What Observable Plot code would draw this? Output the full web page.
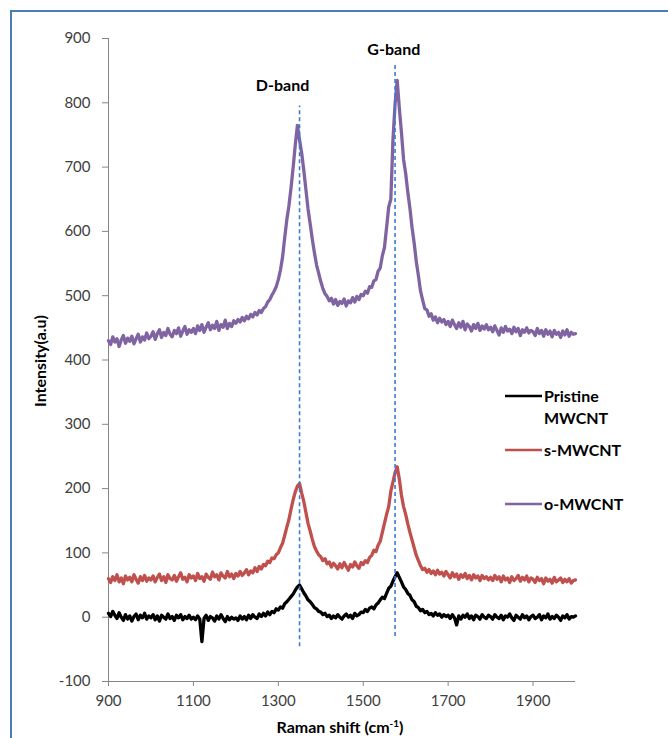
<!DOCTYPE html>
<html><head><meta charset="utf-8">
<script src="https://cdn.jsdelivr.net/npm/d3@7"></script>
<script src="https://cdn.jsdelivr.net/npm/@observablehq/plot@0.6"></script>
<style>
body{margin:0;background:#fff;}
#wrap{position:relative;width:668px;height:738px;overflow:hidden;font-family:Lato,sans-serif;background:#fff;}
#wrap svg{position:absolute;left:0;top:0;}
#frame{position:absolute;left:10px;top:10px;width:700px;height:800px;border-left:2px solid #4a7ebb;border-top:2px solid #4a7ebb;}
</style>
</head><body>
<div id="wrap"><div id="frame"></div></div>
<script>
// Raman shift sampling: 900 to 2000 cm-1, every 5 cm-1
const shiftStart = 900, shiftStep = 5;

const pristine = [
 6, 1, 9, 3, -2, 7, 0, -5, 4, -3, 2, -6, 1, 5, -4, 3, -1, 6, -3, 2,
 -1, 4, -4, 2, -6, 3, 0, -3, 5, -2, 1, -5, 3, -1, 4, -4, 1, -2, 3, -3,
 0, -4, 2, -3, -38, -2, 3, -5, 1, -1, -6, 2, -3, 4, -2, -7, 1, -4, 0, -3,
 -1, -5, 2, -3, 1, -4, 3, -2, 4, 0, -2, 5, 1, 6, 2, 8, 4, 9, 7, 13,
 11, 16, 14, 21, 24, 28, 32, 36, 42, 47, 50, 44, 38, 33, 27, 24, 20, 15, 13, 9,
 8, 4, 6, 1, 3, -2, 2, -1, 4, 0, -3, 2, 5, 0, 3, -2, 6, 2, 4, 8,
 7, 12, 9, 14, 16, 13, 19, 22, 27, 31, 29, 37, 45, 48, 56, 63, 69, 62, 55, 47,
 43, 37, 34, 27, 24, 17, 15, 10, 12, 7, 9, 4, 6, 2, 7, 3, 5, 0, 4, 1,
 3, -2, 4, -1, -12, 2, -3, 3, 0, 5, -2, 2, -4, 3, 1, -3, 4, 0, -2, 3,
 1, -3, 4, 0, -2, 3, -4, 2, 0, 5, -1, -5, 3, 0, -3, 4, -1, 2, -4, 1,
 3, -2, 0, 4, -4, 2, -1, 5, -3, 1, -2, 3, 0, -5, 2, -1, 4, -3, 1, 0,
 2
];

const sMWCNT = [
 60, 54, 63, 57, 66, 55, 61, 52, 64, 58, 62, 55, 66, 59, 53, 63, 57, 65, 56, 61,
 58, 64, 55, 62, 67, 57, 63, 54, 66, 60, 58, 65, 56, 63, 69, 59, 62, 55, 66, 61,
 64, 57, 68, 60, 63, 56, 67, 62, 59, 70, 63, 66, 58, 69, 64, 61, 71, 63, 67, 60,
 68, 64, 71, 65, 69, 74, 66, 72, 69, 77, 71, 79, 75, 82, 80, 87, 85, 92, 91, 97,
 100, 108, 115, 127, 140, 152, 168, 183, 195, 204, 208, 193, 180, 163, 146, 134, 121, 110, 103, 97,
 94, 88, 91, 83, 86, 78, 84, 80, 75, 83, 77, 85, 79, 73, 82, 78, 86, 80, 76, 85,
 82, 88, 85, 93, 96, 104, 102, 112, 118, 132, 146, 160, 172, 196, 210, 225, 234, 215, 190, 172,
 160, 145, 132, 120, 108, 96, 88, 80, 74, 76, 70, 74, 68, 72, 66, 73, 67, 70, 64, 71,
 66, 61, 69, 63, 67, 59, 66, 62, 68, 60, 65, 58, 66, 61, 64, 57, 65, 60, 63, 58,
 62, 57, 65, 59, 63, 55, 64, 58, 61, 54, 63, 57, 60, 65, 56, 62, 58, 64, 55, 61,
 59, 54, 62, 57, 60, 52, 61, 56, 59, 53, 62, 55, 58, 61, 54, 59, 55, 60, 53, 57,
 58
];

const oMWCNT = [
 430, 424, 436, 428, 433, 421, 431, 438, 426, 434, 429, 437, 425, 433, 440, 428, 436, 431, 442, 433,
 437, 444, 432, 441, 447, 435, 443, 438, 449, 440, 436, 446, 441, 450, 437, 445, 452, 440, 447, 443,
 449, 441, 453, 446, 455, 443, 451, 458, 447, 454, 449, 460, 446, 455, 451, 462, 449, 457, 452, 461,
 457, 463, 459, 466, 461, 468, 464, 471, 467, 474, 470, 477, 474, 480, 483, 490, 494, 501, 507, 514,
 525, 540, 560, 590, 618, 640, 668, 700, 735, 765, 742, 722, 695, 665, 635, 612, 588, 567, 548, 535,
 522, 511, 503, 499, 492, 496, 487, 494, 485, 491, 488, 495, 484, 492, 489, 497, 490, 499, 494, 502,
 500, 507, 504, 514, 513, 523, 525, 538, 543, 562, 575, 606, 638, 650, 742, 798, 835, 792, 754, 712,
 690, 661, 636, 606, 582, 553, 531, 507, 493, 480, 478, 468, 472, 462, 467, 458, 465, 459, 463, 455,
 460, 452, 462, 455, 449, 458, 451, 460, 447, 456, 452, 445, 455, 449, 457, 446, 453, 448, 455, 447,
 451, 444, 453, 446, 439, 450, 443, 452, 445, 448, 441, 451, 444, 449, 438, 447, 443, 450, 442, 446,
 444, 438, 449, 441, 446, 437, 447, 440, 445, 436, 446, 440, 443, 435, 445, 439, 447, 437, 443, 440,
 441
];

const seriesNames = ["Pristine MWCNT", "s-MWCNT", "o-MWCNT"];
const seriesColors = ["#000000", "#c0504d", "#8064a2"];
const xTicks = [900, 1100, 1300, 1500, 1700, 1900];
const yTicks = [-100, 0, 100, 200, 300, 400, 500, 600, 700, 800, 900];
const bandNames = ["D-band", "G-band"];
const bandShift = [1350, 1575];
const bandLineTop = [795, 862];
const bandLineBottom = [-46, -30];
const bandLabelX = [1310, 1572];
const bandLabelY = [826, 882];

const allSeries = [pristine, sMWCNT, oMWCNT];
const rows = [];
allSeries.forEach((vals, s) => vals.forEach((v, i) =>
  rows.push({series: seriesNames[s], shift: shiftStart + i * shiftStep, intensity: v})));
const bands = bandNames.map((n, i) => ({name: n, x: bandShift[i], y1: bandLineBottom[i], y2: bandLineTop[i], lx: bandLabelX[i], ly: bandLabelY[i]}));
const drawOrder = ["o-MWCNT", "s-MWCNT", "Pristine MWCNT"];

const chart = Plot.plot({
  width: 668, height: 738,
  marginLeft: 108, marginRight: 93, marginTop: 38, marginBottom: 57,
  style: {fontFamily: "Lato, sans-serif", fontSize: "15px", background: "transparent", overflow: "visible"},
  x: {domain: [900, 2000]},
  y: {domain: [-100, 900]},
  color: {domain: seriesNames, range: seriesColors},
  marks: [
    Plot.axisY({ticks: yTicks, tickFormat: d => String(d), tickSize: 6, tickPadding: 12, stroke: "#868686", fill: "#404040", label: null}),
    Plot.axisX({ticks: xTicks, tickFormat: d => String(d), tickSize: 5, tickPadding: 9, stroke: "#868686", fill: "#404040", label: null}),
    Plot.ruleX([900], {stroke: "#868686", strokeWidth: 1}),
    Plot.ruleY([-100], {stroke: "#868686", strokeWidth: 1}),
    ...drawOrder.map(name => Plot.line(rows.filter(r => r.series === name), {
      x: "shift", y: "intensity", stroke: "series", strokeWidth: 3.3, strokeLinejoin: "round"
    })),
    Plot.ruleX(bands, {x: "x", y1: "y1", y2: "y2", stroke: "#3a7bd5", strokeWidth: 1.6, strokeDasharray: "4,3"}),
    Plot.text(bands, {x: "lx", y: "ly", text: "name", fontWeight: "bold", fontSize: 16, fill: "#000"})
  ]
});
document.getElementById("wrap").appendChild(chart);

// Axis titles and legend overlay
const ov = d3.select("#wrap").append("svg").attr("width", 668).attr("height", 738)
  .style("font-family", "Lato, sans-serif").style("pointer-events", "none");
ov.append("text").attr("transform", "translate(46,361) rotate(-90)").attr("text-anchor", "middle")
  .attr("font-weight", "bold").attr("font-size", 16).text("Intensity(a.u)");
const xt = ov.append("text").attr("x", 340).attr("y", 733).attr("text-anchor", "middle")
  .attr("font-weight", "bold").attr("font-size", 16);
xt.append("tspan").text("Raman shift (cm");
xt.append("tspan").attr("dy", -6).attr("font-size", 10).text("-1");
xt.append("tspan").attr("dy", 6).text(")");

const legendLineY = [396, 450, 504];
const legendTexts = [["Pristine", "MWCNT"], ["s-MWCNT"], ["o-MWCNT"]];
seriesNames.forEach((n, i) => {
  ov.append("line").attr("x1", 505).attr("x2", 542).attr("y1", legendLineY[i]).attr("y2", legendLineY[i])
    .attr("stroke", seriesColors[i]).attr("stroke-width", 2.6);
  legendTexts[i].forEach((t, j) => {
    ov.append("text").attr("x", 544).attr("y", legendLineY[i] + 6 + j * 22)
      .attr("font-weight", "bold").attr("font-size", 16).text(t);
  });
});
</script>
</body></html>
